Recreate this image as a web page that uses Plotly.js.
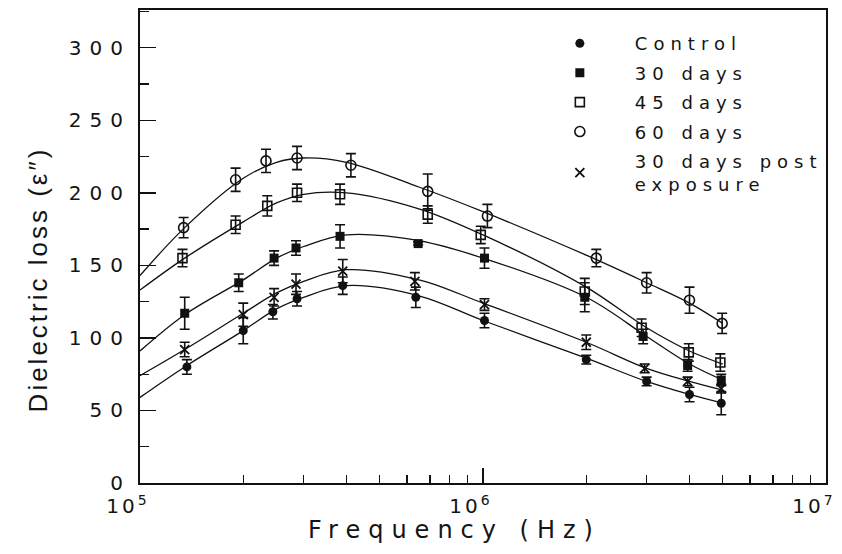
<!DOCTYPE html>
<html>
<head>
<meta charset="utf-8">
<script src="https://cdn.plot.ly/plotly-3.0.1.min.js"></script>
<style>
  html, body { margin: 0; padding: 0; background: #fff; }
  #chart { width: 842px; height: 554px; }
  .ytick text { letter-spacing: 8px; }
  .xtick text { letter-spacing: 3px; }
  g.annotation[data-index="0"] text { letter-spacing: 8px; }
  g.annotation[data-index="1"] text { letter-spacing: 3px; }
  text.legendtext { letter-spacing: 6px; }
</style>
</head>
<body>
<div id="chart"></div>
<script>
// ---- data ----
const seriesNames = ['Control', '30 days', '45 days', '60 days', '30 days post<br>exposure'];
const xTitle = 'Frequency (Hz)';
const yTitle = 'Dielectric loss (\u03B5\u2033)';

const ctrlF   = [1.37e5, 2.0e5, 2.44e5, 2.87e5, 3.9e5, 6.37e5, 1.01e6, 2.0e6, 3.0e6, 4.0e6, 4.95e6];
const ctrlY   = [80, 105, 118, 127, 136, 128, 112, 85, 70, 61, 55];
const ctrlErr = [5, 9, 5, 5, 6, 7, 5, 3, 3, 5, 8];

const d30F    = [1.35e5, 1.94e5, 2.46e5, 2.85e5, 3.83e5, 6.47e5, 1.01e6, 1.98e6, 2.93e6, 3.95e6, 4.95e6];
const d30Y    = [117, 138, 155, 162, 170, 165, 155, 128, 101, 81, 71];
const d30Err  = [11, 6, 5, 5, 8, 1, 7, 10, 5, 4, 4];

const d45F    = [1.33e5, 1.9e5, 2.35e5, 2.87e5, 3.83e5, 6.9e5, 9.85e5, 1.98e6, 2.9e6, 3.98e6, 4.92e6];
const d45Y    = [155, 178, 191, 200, 199, 185, 171, 132, 107, 90, 83];
const d45Err  = [6, 6, 7, 6, 7, 6, 6, 9, 6, 6, 6];

const d60F    = [1.34e5, 1.9e5, 2.33e5, 2.87e5, 4.12e5, 6.9e5, 1.03e6, 2.14e6, 3.0e6, 4.0e6, 4.98e6];
const d60Y    = [176, 209, 222, 224, 219, 201, 184, 155, 138, 126, 110];
const d60Err  = [7, 8, 8, 8, 8, 12, 8, 6, 7, 9, 7];

const postF   = [1.35e5, 2.0e5, 2.46e5, 2.85e5, 3.9e5, 6.33e5, 1.01e6, 2.0e6, 2.96e6, 3.95e6, 4.95e6];
const postY   = [92, 116, 128, 137, 146, 139, 123, 97, 79, 70, 65];
const postErr = [5, 8, 6, 7, 8, 6, 4, 5, 3, 3, 3];

// fitted curves
const curveF  = [1e5, 1.35e5, 2e5, 2.5e5, 3e5, 4e5, 6.5e5, 1e6, 2e6, 3e6, 4e6, 5e6];
const curveCtrl = [59, 80, 105, 120, 128, 136, 129, 112, 86, 70, 61, 55];
const curve30   = [91, 116, 140, 155, 163, 171, 167, 155, 128, 101, 82, 71];
const curve45   = [133, 155, 180, 193, 199, 200, 189, 171, 135, 107, 91, 82];
const curve60   = [143, 176, 210, 221, 224, 221, 204, 187, 157, 138, 124, 110];
const curvePost = [74, 92, 117, 131, 139, 147, 140, 124, 97, 79, 70, 64];

const yTickVals = [0, 50, 100, 150, 200, 250, 300];
const xTickVals = [1e5, 1e6, 1e7];
const xTickText = ['10<sup>5</sup>', '10<sup>6</sup>', '10<sup>7</sup>'];
const xMinorVals = [2e5,3e5,4e5,5e5,6e5,7e5,8e5,9e5,2e6,3e6,4e6,5e6,6e6,7e6,8e6,9e6];

// ---- traces ----
const ink = '#111';
const txt = '#141414';
function curve(y) {
  return { x: curveF, y: y, mode: 'lines', type: 'scatter', showlegend: false, hoverinfo: 'skip',
           line: { color: ink, width: 1.3, shape: 'spline', smoothing: 1 } };
}
function pts(name, x, y, err, marker, grp) {
  return { x: x, y: y, name: name, mode: 'markers', type: 'scatter', legendgroup: grp,
           marker: marker,
           error_y: { type: 'data', array: err, visible: true, color: ink, thickness: 1.6, width: 5 } };
}
const traces = [
  curve(curveCtrl), curve(curve30), curve(curve45), curve(curve60), curve(curvePost),
  pts(seriesNames[0], ctrlF, ctrlY, ctrlErr, { symbol: 'circle', size: 9, color: ink }, 'a'),
  pts(seriesNames[1], d30F, d30Y, d30Err, { symbol: 'square', size: 9, color: ink }, 'b'),
  pts(seriesNames[2], d45F, d45Y, d45Err, { symbol: 'square-open', size: 9, color: ink, line: { width: 1.6, color: ink } }, 'c'),
  pts(seriesNames[3], d60F, d60Y, d60Err, { symbol: 'circle-open', size: 10, color: ink, line: { width: 1.6, color: ink } }, 'd'),
  pts(seriesNames[4], postF, postY, postErr, { symbol: 'x-thin-open', size: 9, color: ink, line: { width: 1.8, color: ink } }, 'e')
];

const layout = {
  width: 842, height: 554,
  margin: { l: 140, r: 16, t: 10, b: 71 },
  paper_bgcolor: '#fff', plot_bgcolor: '#fff',
  font: { family: 'DejaVu Sans, sans-serif', color: txt, size: 17 },
  showlegend: true,
  legend: {
    x: 0.561, y: 0.968, xanchor: 'left', yanchor: 'top',
    bgcolor: 'rgba(0,0,0,0)', borderwidth: 0,
    font: { family: 'DejaVu Sans, sans-serif', size: 18, color: txt },
    traceorder: 'grouped', tracegroupgap: 3, itemwidth: 100
  },
  xaxis: {
    type: 'log', range: [5, 7],
    tickmode: 'array', tickvals: xTickVals, ticktext: xTickText,
    ticklabeloverflow: 'allow', ticklabelshift: -12, ticklabelstandoff: 4,
    ticks: 'inside', ticklen: 15, tickwidth: 1.5, tickcolor: ink,
    minor: { tickmode: 'array', tickvals: xMinorVals, ticks: 'inside', ticklen: 8, tickwidth: 1.3, tickcolor: ink, showgrid: false },
    showgrid: false, zeroline: false,
    showline: true, linecolor: ink, linewidth: 2, mirror: true,
    tickfont: { family: 'DejaVu Sans, sans-serif', size: 20, color: txt }
  },
  yaxis: {
    range: [0, 326],
    tickmode: 'array', tickvals: yTickVals,
    ticks: 'inside', ticklen: 16, tickwidth: 1.5, tickcolor: ink,
    minor: { dtick: 25, ticks: 'inside', ticklen: 9, tickwidth: 1.3, tickcolor: ink, showgrid: false },
    ticklabelstandoff: 3,
    showgrid: false, zeroline: false,
    showline: true, linecolor: ink, linewidth: 2, mirror: true,
    tickfont: { family: 'DejaVu Sans, sans-serif', size: 20, color: txt }
  },
  annotations: [
    { text: xTitle, xref: 'paper', yref: 'paper', x: 0.459, y: -0.099, xanchor: 'center', yanchor: 'middle',
      showarrow: false, font: { family: 'DejaVu Sans, sans-serif', size: 24, color: txt } },
    { text: yTitle, xref: 'paper', yref: 'paper', x: -0.149, y: 0.43, xanchor: 'center', yanchor: 'middle',
      textangle: -90, showarrow: false, font: { family: 'Liberation Sans, Arial, sans-serif', size: 26, color: txt } }
  ]
};

Plotly.newPlot('chart', traces, layout, { displayModeBar: false, staticPlot: true });
</script>
</body>
</html>
